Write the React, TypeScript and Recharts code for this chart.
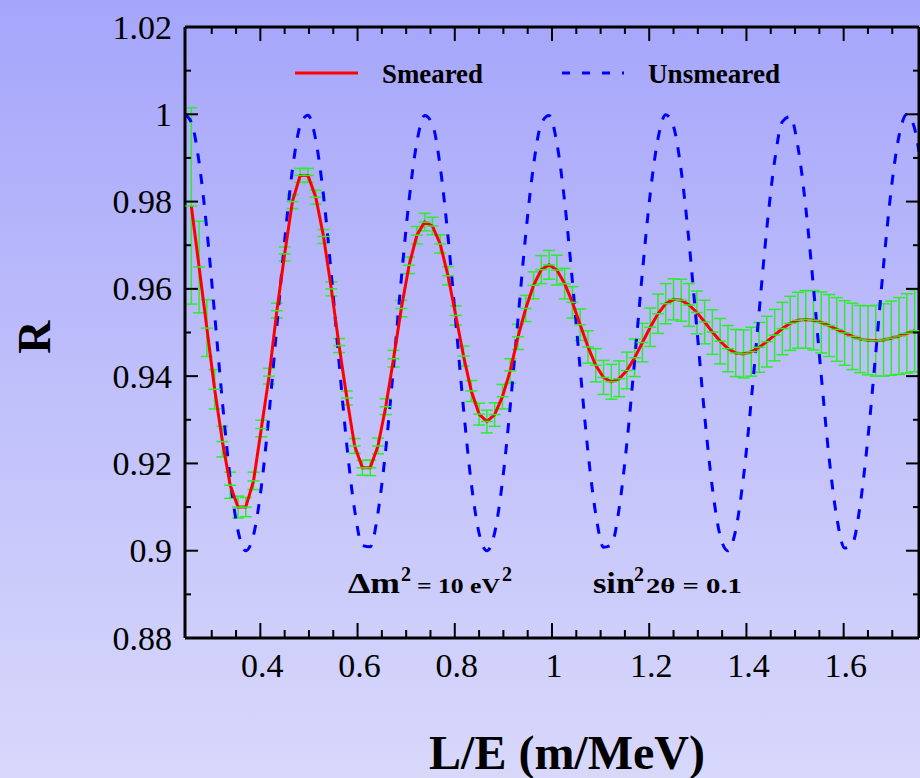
import { ComposedChart, ErrorBar, Line, XAxis, YAxis } from "recharts";

// L/E grid of the smeared points (m/MeV)
const LE = [
  0.258, 0.274, 0.29, 0.306, 0.322, 0.338, 0.354, 0.37, 0.386, 0.402,
  0.418, 0.434, 0.45, 0.466, 0.482, 0.498, 0.514, 0.53, 0.546, 0.562,
  0.578, 0.594, 0.61, 0.626, 0.642, 0.658, 0.674, 0.69, 0.706, 0.722,
  0.738, 0.754, 0.77, 0.786, 0.802, 0.818, 0.834, 0.85, 0.866, 0.882,
  0.898, 0.914, 0.93, 0.946, 0.962, 0.978, 0.994, 1.01, 1.026, 1.042,
  1.058, 1.074, 1.09, 1.106, 1.122, 1.138, 1.154, 1.17, 1.186, 1.202,
  1.218, 1.234, 1.25, 1.266, 1.282, 1.298, 1.314, 1.33, 1.346, 1.362,
  1.378, 1.394, 1.41, 1.426, 1.442, 1.458, 1.474, 1.49, 1.506, 1.522,
  1.538, 1.554, 1.57, 1.586, 1.602, 1.618, 1.634, 1.65, 1.666, 1.682,
  1.698, 1.714, 1.73, 1.746,
];

const SMEARED = [
  0.979, 0.965, 0.951, 0.937, 0.925, 0.915, 0.91, 0.91, 0.916, 0.928,
  0.94, 0.955, 0.968, 0.98, 0.986, 0.986, 0.981, 0.972, 0.96, 0.947,
  0.935, 0.924, 0.919, 0.919, 0.924, 0.933, 0.944, 0.9555, 0.9654, 0.9723,
  0.9753, 0.9744, 0.9703, 0.963, 0.9539, 0.9446, 0.9366, 0.9313, 0.9296, 0.9312,
  0.9353, 0.9412, 0.949, 0.9555, 0.9608, 0.9644, 0.9655, 0.9643, 0.9612, 0.9569,
  0.9518, 0.9467, 0.9425, 0.9397, 0.9387, 0.9394, 0.9413, 0.9442, 0.9477, 0.9512,
  0.9543, 0.9566, 0.9576, 0.9574, 0.9563, 0.9546, 0.9524, 0.9501, 0.948, 0.9463,
  0.9453, 0.9451, 0.9456, 0.9466, 0.9479, 0.9494, 0.9509, 0.9521, 0.9528, 0.953,
  0.9528, 0.9523, 0.9516, 0.9507, 0.9499, 0.9491, 0.9485, 0.9482, 0.9481, 0.9483,
  0.9487, 0.9492, 0.9498, 0.9504,
];

const ERRORS = [
  0.0225, 0.0105, 0.0065, 0.0045, 0.0035, 0.003, 0.0025, 0.0022, 0.002, 0.0019,
  0.0018, 0.0017, 0.0016, 0.0016, 0.0016, 0.0016, 0.0016, 0.0016, 0.0016, 0.0016,
  0.0016, 0.0017, 0.0017, 0.0018, 0.0018, 0.0018, 0.0019, 0.0019, 0.0019, 0.002,
  0.002, 0.002, 0.0021, 0.0021, 0.0022, 0.0023, 0.0024, 0.0025, 0.0026, 0.0027,
  0.0028, 0.0028, 0.0029, 0.003, 0.0031, 0.0032, 0.0033, 0.0034, 0.0035, 0.0036,
  0.0036, 0.0037, 0.0038, 0.0039, 0.004, 0.0041, 0.0042, 0.0043, 0.0044, 0.0044,
  0.0045, 0.0046, 0.0047, 0.0048, 0.0049, 0.0049, 0.005, 0.0051, 0.0052, 0.0053,
  0.0054, 0.0055, 0.0056, 0.0057, 0.0058, 0.0059, 0.006, 0.0062, 0.0064, 0.0066,
  0.0068, 0.007, 0.0071, 0.0073, 0.0074, 0.0076, 0.0077, 0.0079, 0.0081, 0.0083,
  0.0085, 0.0088, 0.0091, 0.0094,
];

const UNSMEARED_LE = [
  0.245,
  0.258, 0.274, 0.29, 0.306, 0.322, 0.338, 0.354, 0.37, 0.386, 0.402,
  0.418, 0.434, 0.45, 0.466, 0.482, 0.498, 0.514, 0.53, 0.546, 0.562,
  0.578, 0.594, 0.61, 0.626, 0.642, 0.658, 0.674, 0.69, 0.706, 0.722,
  0.738, 0.754, 0.77, 0.786, 0.802, 0.818, 0.834, 0.85, 0.866, 0.882,
  0.898, 0.914, 0.93, 0.946, 0.962, 0.978, 0.994, 1.01, 1.026, 1.042,
  1.058, 1.074, 1.09, 1.106, 1.122, 1.138, 1.154, 1.17, 1.186, 1.202,
  1.218, 1.234, 1.25, 1.266, 1.282, 1.298, 1.314, 1.33, 1.346, 1.362,
  1.378, 1.394, 1.41, 1.426, 1.442, 1.458, 1.474, 1.49, 1.506, 1.522,
  1.538, 1.554, 1.57, 1.586, 1.602, 1.618, 1.634, 1.65, 1.666, 1.682,
  1.698, 1.714, 1.73, 1.746,
  1.755,
];

const UNSMEARED = [
  0.9999,
  0.9982, 0.989, 0.9735, 0.9541, 0.934, 0.9166, 0.9046, 0.9, 0.9036, 0.9146,
  0.9315, 0.9514, 0.971, 0.9873, 0.9974, 0.9998, 0.9941, 0.9813, 0.9633, 0.9431,
  0.9241, 0.9093, 0.9012, 0.9009, 0.9087, 0.9232, 0.9421, 0.9623, 0.9804, 0.9936,
  0.9997, 0.9977, 0.988, 0.972, 0.9525, 0.9325, 0.9154, 0.904, 0.9, 0.9041,
  0.9158, 0.933, 0.953, 0.9725, 0.9883, 0.9979, 0.9997, 0.9934, 0.98, 0.9617,
  0.9416, 0.9227, 0.9084, 0.9008, 0.9013, 0.9096, 0.9246, 0.9436, 0.9638, 0.9817,
  0.9944, 0.9999, 0.9972, 0.9869, 0.9706, 0.9509, 0.931, 0.9143, 0.9034, 0.9,
  0.9048, 0.917, 0.9345, 0.9546, 0.9739, 0.9893, 0.9983, 0.9995, 0.9925, 0.9787,
  0.9602, 0.94, 0.9214, 0.9075, 0.9006, 0.9016, 0.9105, 0.9259, 0.9452, 0.9653,
  0.9829, 0.9951, 1.0, 0.9967,
  0.9914,
];

const X_TICKS = [
  0.3, 0.35, 0.4, 0.45, 0.5, 0.55, 0.6, 0.65, 0.7, 0.75, 0.8, 0.85, 0.9, 0.95,
  1, 1.05, 1.1, 1.15, 1.2, 1.25, 1.3, 1.35, 1.4, 1.45, 1.5, 1.55, 1.6, 1.65, 1.7,
];
const X_LABELS = [0.4, 0.6, 0.8, 1, 1.2, 1.4, 1.6];

const Y_TICKS = [
  0.88, 0.89, 0.9, 0.91, 0.92, 0.93, 0.94, 0.95, 0.96, 0.97, 0.98, 0.99, 1, 1.01, 1.02,
];
const Y_LABELS = [0.88, 0.9, 0.92, 0.94, 0.96, 0.98, 1, 1.02];

const smearedRows = LE.map((le, i) => ({ le, smeared: SMEARED[i], err: ERRORS[i] }));
const unsmearedRows = UNSMEARED_LE.map((le, i) => ({ le, unsmeared: UNSMEARED[i] }));

const SERIF = "'Liberation Serif', 'Times New Roman', Times, serif";
const GREEN = "#2bee2b";
const serifStyle = { fontFamily: SERIF };

function BottomTick(props: any) {
  const { x, y, payload } = props;
  const major = X_LABELS.includes(payload.value);
  return (
    <g>
      <line x1={x} x2={x} y1={y} y2={y - (major ? 15 : 8)} stroke="#000" strokeWidth={2} />
      {major && (
        <text x={x + 2} y={y + 39} textAnchor="middle" fontSize={34} style={serifStyle} fill="#000">
          {String(payload.value)}
        </text>
      )}
    </g>
  );
}

function TopTick(props: any) {
  const { x, y, payload } = props;
  const major = X_LABELS.includes(payload.value);
  return <line x1={x} x2={x} y1={y} y2={y + (major ? 14 : 7)} stroke="#000" strokeWidth={2} />;
}

function LeftTick(props: any) {
  const { x, y, payload } = props;
  const major = Y_LABELS.includes(payload.value);
  return (
    <g>
      <line x1={x} x2={x + (major ? 13 : 6)} y1={y} y2={y} stroke="#000" strokeWidth={2} />
      {major && (
        <text x={x - 13} y={y} dy="0.34em" textAnchor="end" fontSize={34} style={serifStyle} fill="#000">
          {String(payload.value)}
        </text>
      )}
    </g>
  );
}

function RightTick(props: any) {
  const { x, y, payload } = props;
  const major = Y_LABELS.includes(payload.value);
  return <line x1={x} x2={x - (major ? 13 : 6)} y1={y} y2={y} stroke="#000" strokeWidth={2} />;
}

const axisLine = { stroke: "#000", strokeWidth: 3 };

export default function App() {
  return (
    <div
      style={{
        position: "absolute",
        left: 0,
        top: 0,
        width: 920,
        height: 778,
        background: "linear-gradient(to bottom, #a5a5fb 0%, #bdbdfb 45%, #d8d8fb 100%)",
        overflow: "hidden",
      }}
    >
      <ComposedChart width={920} height={778} margin={{ top: 0, right: 0, bottom: 80, left: 85 }}>
        <XAxis
          xAxisId="bottom"
          type="number"
          dataKey="le"
          domain={[0.245, 1.755]}
          allowDataOverflow
          ticks={X_TICKS}
          interval={0}
          height={60}
          tickSize={0}
          tickMargin={0}
          tickLine={false}
          axisLine={axisLine}
          tick={(p: any) => <BottomTick {...p} />}
        />
        <XAxis
          xAxisId="top"
          orientation="top"
          type="number"
          dataKey="le"
          domain={[0.245, 1.755]}
          allowDataOverflow
          ticks={X_TICKS}
          interval={0}
          height={27}
          tickSize={0}
          tickMargin={0}
          tickLine={false}
          axisLine={axisLine}
          tick={(p: any) => <TopTick {...p} />}
        />
        <YAxis
          yAxisId="left"
          type="number"
          domain={[0.88, 1.02]}
          allowDataOverflow
          ticks={Y_TICKS}
          interval={0}
          width={100}
          tickSize={0}
          tickMargin={0}
          tickLine={false}
          axisLine={axisLine}
          tick={(p: any) => <LeftTick {...p} />}
        />
        <YAxis
          yAxisId="right"
          orientation="right"
          type="number"
          domain={[0.88, 1.02]}
          allowDataOverflow
          ticks={Y_TICKS}
          interval={0}
          width={1}
          tickSize={0}
          tickMargin={0}
          tickLine={false}
          axisLine={axisLine}
          tick={(p: any) => <RightTick {...p} />}
        />

        <Line
          data={smearedRows}
          dataKey="smeared"
          xAxisId="bottom"
          yAxisId="left"
          stroke="none"
          isAnimationActive={false}
          activeDot={false}
          dot={(p: any) => (
            <line
              key={`c-${p.index}`}
              x1={p.cx - 6}
              x2={p.cx + 6}
              y1={p.cy}
              y2={p.cy}
              stroke={GREEN}
              strokeWidth={1.5}
            />
          )}
        >
          <ErrorBar dataKey="err" width={6} stroke={GREEN} strokeWidth={1.5} isAnimationActive={false} />
        </Line>

        <Line
          data={unsmearedRows}
          dataKey="unsmeared"
          xAxisId="bottom"
          yAxisId="left"
          type="monotone"
          stroke="#0000ff"
          strokeWidth={3}
          strokeDasharray="10 11"
          dot={false}
          activeDot={false}
          isAnimationActive={false}
        />

        <Line
          data={smearedRows}
          dataKey="smeared"
          xAxisId="bottom"
          yAxisId="left"
          type="linear"
          stroke="#ff0000"
          strokeWidth={3}
          dot={false}
          activeDot={false}
          isAnimationActive={false}
        />
      </ComposedChart>

      <svg
        width={920}
        height={778}
        style={{ position: "absolute", left: 0, top: 0, pointerEvents: "none", fontFamily: SERIF }}
      >
        {/* legend */}
        <line x1={295} x2={358} y1={73} y2={73} stroke="#ff0000" strokeWidth={3} />
        <text x={382} y={83} fontSize={27} fontWeight={700} textLength={101} lengthAdjust="spacingAndGlyphs">
          Smeared
        </text>
        <line x1={562} x2={624} y1={73} y2={73} stroke="#0000ff" strokeWidth={3} strokeDasharray="8 12" />
        <text x={648} y={83} fontSize={27} fontWeight={700} textLength={132} lengthAdjust="spacingAndGlyphs">
          Unsmeared
        </text>

        {/* parameters */}
        <g fontWeight={700}>
          <text x={348} y={593} fontSize={30} textLength={52} lengthAdjust="spacingAndGlyphs">Δm</text>
          <text x={401} y={581} fontSize={20}>2</text>
          <text x={417} y={593} fontSize={22} textLength={83} lengthAdjust="spacingAndGlyphs">= 10 eV</text>
          <text x={502} y={581} fontSize={20}>2</text>
          <text x={593} y={593} fontSize={30} textLength={42} lengthAdjust="spacingAndGlyphs">sin</text>
          <text x={634} y={581} fontSize={20}>2</text>
          <text x={646} y={593} fontSize={22} textLength={96} lengthAdjust="spacingAndGlyphs">2θ = 0.1</text>
        </g>

        {/* axis titles */}
        <text x={50} y={337} transform="rotate(-90 50 337)" textAnchor="middle" fontSize={46} fontWeight={700}>
          R
        </text>
        <text x={567} y={769} textAnchor="middle" fontSize={48} fontWeight={700}>
          L/E (m/MeV)
        </text>
      </svg>
    </div>
  );
}
